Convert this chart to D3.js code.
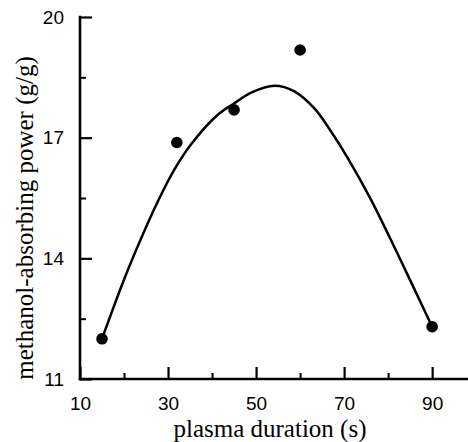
<!DOCTYPE html>
<html><head><meta charset="utf-8">
<script src="https://cdn.jsdelivr.net/npm/d3@7"></script>
<style>body{margin:0;background:#fff}svg{display:block}</style>
</head><body>
<svg id="c" width="468" height="442"></svg>
<script>
const durations = [15, 32, 45, 60, 90];
const absorbing = [12.0, 16.88, 17.69, 19.18, 12.3];
const fitX = [15, 20.1, 23.9, 27.7, 31.4, 35.2, 41.3, 45, 48.9, 54.2, 58.7, 63.3, 67.0, 70.8, 76.1, 82.2, 90];
const fitY = [12.0, 13.5, 14.5, 15.42, 16.2, 16.83, 17.57, 17.85, 18.12, 18.29, 18.15, 17.72, 17.16, 16.5, 15.46, 14.1, 12.3];
const xMajor = [10, 30, 50, 70, 90];
const xMinor = [20, 40, 60, 80];
const yMajor = [11, 14, 17, 20];
const yMinor = [12.5, 15.5, 18.5];

const svg = d3.select("#c");
const x = d3.scaleLinear().domain([10, 98.6]).range([80, 470]);
const y = d3.scaleLinear().domain([11, 20]).range([379, 17]);
const x0 = x(10), y0 = y(11);
const tf = "'Liberation Sans', Arial, sans-serif";
const sf = "'Liberation Serif', 'Times New Roman', serif";

function styleAxis(sel, w) {
  sel.select(".domain").remove();
  sel.selectAll(".tick line").attr("stroke", "#000").attr("stroke-width", w);
  sel.selectAll(".tick text").attr("fill", "#000");
  sel.attr("font-family", tf).attr("font-size", 19);
}

// x axis minor + major (ticks pointing inward / up)
svg.append("g").attr("transform", `translate(0,${y0})`)
  .call(d3.axisBottom(x).tickValues(xMinor).tickSizeInner(-6).tickSizeOuter(0).tickFormat(() => ""))
  .call(s => styleAxis(s, 2));
svg.append("g").attr("transform", `translate(0,${y0})`)
  .call(d3.axisBottom(x).tickValues(xMajor).tickSizeInner(-12).tickSizeOuter(0).tickPadding(17.5).tickFormat(d3.format("d")))
  .call(s => styleAxis(s, 2.2));

// y axis minor + major (ticks pointing inward / right)
svg.append("g").attr("transform", `translate(${x0},0)`)
  .call(d3.axisLeft(y).tickValues(yMinor).tickSizeInner(-6).tickSizeOuter(0).tickFormat(() => ""))
  .call(s => styleAxis(s, 2));
svg.append("g").attr("transform", `translate(${x0},0)`)
  .call(d3.axisLeft(y).tickValues(yMajor).tickSizeInner(-12).tickSizeOuter(0).tickPadding(16).tickFormat(d3.format("d")))
  .call(s => styleAxis(s, 2.2));

// axis lines
svg.append("line").attr("x1", x0).attr("x2", x0).attr("y1", y(20) - 1.2).attr("y2", y0 + 1.3)
  .attr("stroke", "#000").attr("stroke-width", 2.6);
svg.append("line").attr("x1", x0 - 1.3).attr("x2", 468).attr("y1", y0).attr("y2", y0)
  .attr("stroke", "#000").attr("stroke-width", 2.6);

// axis titles
svg.append("text").attr("x", 270).attr("y", 437).attr("text-anchor", "middle")
  .attr("font-family", sf).attr("font-size", 25).text("plasma duration (s)");
svg.append("text").attr("transform", "translate(33,218) rotate(-90)").attr("text-anchor", "middle")
  .attr("font-family", sf).attr("font-size", 25).text("methanol-absorbing power (g/g)");

// fitted curve
const fit = fitX.map((d, i) => [d, fitY[i]]);
svg.append("path").datum(fit)
  .attr("d", d3.line().x(d => x(d[0])).y(d => y(d[1])).curve(d3.curveCatmullRom.alpha(0.5)))
  .attr("fill", "none").attr("stroke", "#000").attr("stroke-width", 2.5);

// points
svg.selectAll("circle.pt").data(durations).join("circle").attr("class", "pt")
  .attr("cx", d => x(d)).attr("cy", (d, i) => y(absorbing[i])).attr("r", 5.8).attr("fill", "#000");
</script>
</body></html>
